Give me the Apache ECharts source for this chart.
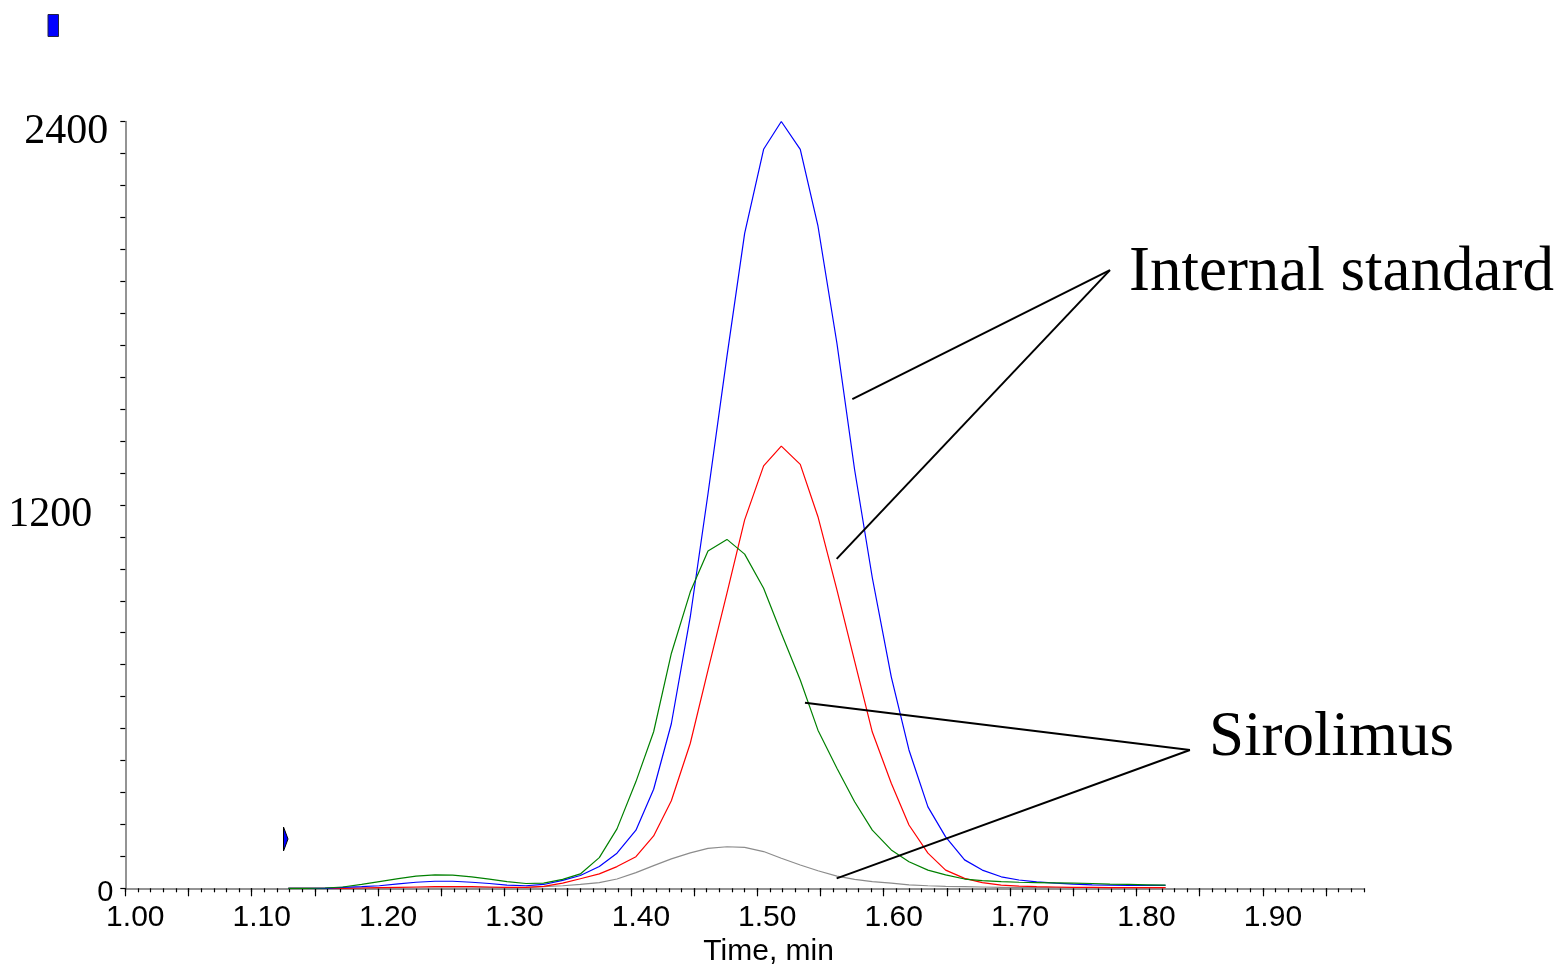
<!DOCTYPE html>
<html>
<head>
<meta charset="utf-8">
<title>Sirolimus chromatogram</title>
<script src="https://cdn.jsdelivr.net/npm/echarts@6/dist/echarts.min.js"></script>
<style>
  html, body { margin: 0; padding: 0; background: #fff; }
  #main { width: 1568px; height: 967px; }
</style>
</head>
<body>
<div id="main"></div>
<script>
// retention time, min
var timeMin = [1.129, 1.143, 1.158, 1.172, 1.187, 1.201, 1.216, 1.230, 1.245, 1.259,
  1.274, 1.288, 1.302, 1.317, 1.331, 1.346, 1.360, 1.375, 1.389, 1.404,
  1.418, 1.432, 1.447, 1.461, 1.476, 1.490, 1.505, 1.519, 1.534, 1.548,
  1.563, 1.577, 1.591, 1.606, 1.620, 1.635, 1.649, 1.664, 1.678, 1.693,
  1.707, 1.721, 1.736, 1.750, 1.765, 1.779, 1.794, 1.808, 1.823];

// internal standard traces
var blueIS = [0, 0, 0, 3, 5, 8, 14, 19, 22, 22,
  19, 15, 10, 8, 12, 25, 40, 68, 110, 182,
  310, 515, 850, 1235, 1665, 2050, 2313, 2400, 2313, 2073,
  1706, 1310, 972, 662, 433, 255, 161, 89, 57, 36,
  26, 20, 16, 13, 11, 10, 9, 9, 9];
var redIS = [0, 0, 0, 0, 1, 2, 3, 4, 5, 5,
  5, 4, 3, 3, 6, 16, 30, 45, 68, 99,
  164, 274, 454, 683, 924, 1153, 1322, 1384, 1327, 1163,
  934, 711, 489, 329, 198, 110, 57, 31, 18, 10,
  7, 5, 4, 3, 3, 2, 2, 2, 2];

// sirolimus traces
var greenSiro = [0, 0, 1, 4, 12, 21, 30, 38, 42, 41,
  36, 29, 21, 15, 16, 28, 45, 96, 186, 334,
  490, 735, 928, 1056, 1092, 1046, 939, 798, 652, 495,
  376, 271, 182, 120, 83, 57, 42, 29, 24, 21,
  19, 18, 17, 16, 15, 13, 12, 11, 10];
var graySiro = [0, 0, 0, 0, 0, 1, 1, 1, 1, 1,
  1, 2, 2, 3, 5, 8, 12, 18, 29, 49,
  71, 92, 111, 125, 130, 128, 115, 94, 73, 55,
  38, 28, 21, 16, 11, 8, 6, 5, 4, 3,
  2, 2, 2, 2, 2, 2, 2, 2, 2];

// axis ticks
var xTickLabels = [1.0, 1.1, 1.2, 1.3, 1.4, 1.5, 1.6, 1.7, 1.8, 1.9];
var xMajorTicks = [1.00, 1.05, 1.10, 1.15, 1.20, 1.25, 1.30, 1.35, 1.40, 1.45,
  1.50, 1.55, 1.60, 1.65, 1.70, 1.75, 1.80, 1.85, 1.90, 1.95];
var yTickLabels = [0, 1200, 2400];

// annotations (time, intensity)
var isApex = [1.779, 1935];
var isEnds = [[1.5752, 1531], [1.5628, 1031]];
var siroApex = [1.8423, 433];
var siroEnds = [[1.5377, 581], [1.5628, 31]];

var chart = echarts.init(document.getElementById('main'));

function pairs(values){
  return timeMin.map(function(t, i){ return [t, values[i]]; });
}
function leader(apex, ends){
  return ends.map(function(e){ return [{coord: apex}, {coord: e}]; });
}
function trace(name, values, color, lines){
  var s = {
    name: name,
    type: 'line',
    data: pairs(values),
    showSymbol: false,
    symbol: 'none',
    lineStyle: {color: color, width: 1.2},
    itemStyle: {color: color},
    silent: true,
    z: 3
  };
  if (lines) {
    s.markLine = {
      silent: true,
      symbol: ['none', 'none'],
      label: {show: false},
      lineStyle: {color: '#000', width: 2, type: 'solid'},
      emphasis: {disabled: true},
      data: lines
    };
  }
  return s;
}

chart.setOption({
  backgroundColor: '#fff',
  animation: false,
  grid: {left: 125.3, right: 204, top: 121.5, bottom: 78.7, outerBoundsMode: 'none'},
  xAxis: [{
    type: 'value',
    min: 1,
    max: 1.98,
    position: 'bottom',
    axisLine: {show: true, lineStyle: {color: '#707070', width: 1.5}},
    axisTick: {show: true, customValues: xMajorTicks, length: 8, lineStyle: {color: '#000', width: 1.2}},
    axisLabel: {
      customValues: xTickLabels,
      formatter: function(v){ return v.toFixed(2); },
      fontFamily: 'Liberation Sans',
      fontSize: 30,
      color: '#000',
      margin: 14,
      padding: [0, 0, 0, 20]
    },
    splitLine: {show: false},
    name: 'Time, min',
    nameLocation: 'middle',
    nameGap: 46,
    nameTextStyle: {fontFamily: 'Liberation Sans', fontSize: 30, color: '#000', padding: [0, 0, 0, 48]}
  }, {
    type: 'value',
    min: 1,
    max: 1.98,
    interval: 0.01,
    position: 'bottom',
    axisLine: {show: false},
    axisTick: {show: true, length: 4, lineStyle: {color: '#000', width: 1.2}},
    axisLabel: {show: false},
    splitLine: {show: false}
  }],
  yAxis: {
    type: 'value',
    min: 0,
    max: 2400,
    interval: 100,
    axisLine: {show: true, lineStyle: {color: '#707070', width: 1.5}},
    axisTick: {show: true, length: 5, lineStyle: {color: '#000', width: 1.2}},
    axisLabel: {
      customValues: yTickLabels,
      margin: 12,
      formatter: function(v){
        if (v === 0) return '{s|0}';
        if (v === 1200) return '{m|1200}';
        return '{t|' + v + '}';
      },
      rich: {
        s: {fontFamily: 'Liberation Sans', fontSize: 29, color: '#000', padding: [10, 0, 0, 0]},
        m: {fontFamily: 'Liberation Serif', fontSize: 42, color: '#000', padding: [20, 21, 0, 0]},
        t: {fontFamily: 'Liberation Serif', fontSize: 42, color: '#000', padding: [20, 5, 0, 0]}
      }
    },
    splitLine: {show: false}
  },
  series: [
    trace('Sirolimus (gray)', graySiro, '#8c8c8c'),
    trace('Internal standard (red)', redIS, '#ff0000'),
    trace('Internal standard (blue)', blueIS, '#0000ff', leader(isApex, isEnds)),
    trace('Sirolimus (green)', greenSiro, '#008000', leader(siroApex, siroEnds))
  ]
});

// label texts next to leader apexes, plus the little markers
var pIS = chart.convertToPixel({gridIndex: 0}, isApex);
var pSiro = chart.convertToPixel({gridIndex: 0}, siroApex);
chart.setOption({
  graphic: [
    {type: 'text', x: pIS[0] + 19, y: pIS[1] + 3, style: {text: 'Internal standard', fontFamily: 'Liberation Serif', fontSize: 63, fill: '#000', verticalAlign: 'middle'}},
    {type: 'text', x: pSiro[0] + 19, y: pSiro[1] - 12, style: {text: 'Sirolimus', fontFamily: 'Liberation Serif', fontSize: 63, fill: '#000', verticalAlign: 'middle'}},
    {type: 'rect', shape: {x: 48, y: 14.5, width: 10.5, height: 22}, style: {fill: '#0000ff', stroke: '#222244', lineWidth: 1}},
    {type: 'polygon', shape: {points: [[283.5, 827], [288, 839], [283.5, 851]]}, style: {fill: '#0000ff', stroke: '#000', lineWidth: 1}}
  ]
});
</script>
</body>
</html>
